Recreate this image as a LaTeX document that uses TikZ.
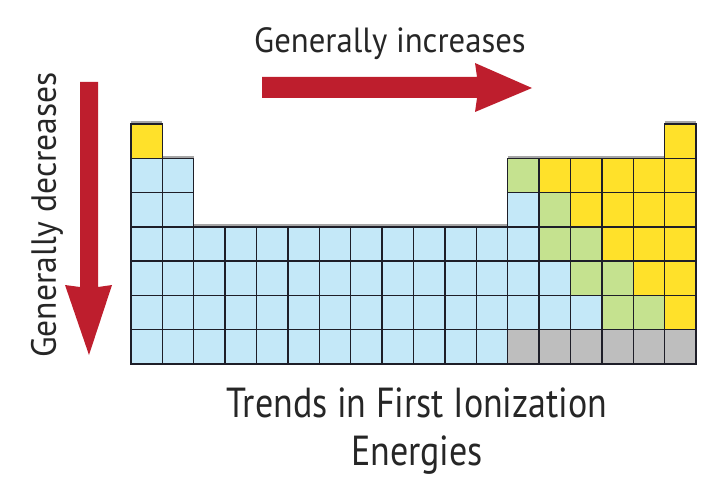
\documentclass[tikz,border=0pt]{standalone}
\usepackage{fontspec}
\setmainfont{PT Sans}
\definecolor{cblue}{HTML}{C4E8F8}
\definecolor{cyellow}{HTML}{FFE12A}
\definecolor{cgreen}{HTML}{C5E28F}
\definecolor{cgray}{HTML}{BEBEBE}
\definecolor{cred}{HTML}{BE1E2D}
\definecolor{cline}{HTML}{1E1E28}
\tikzset{
  lbl/.style={inner sep=0pt, text=black!85},
  bigarrow/.style={fill=cred, draw=none},
}
\newcommand{\narrowtext}[2]{\scalebox{#1}[1]{#2}}
\newcommand{\cell}[3]{% col, row, colour
  \fill[#3] ({131+(#1-1)*31.39},{124+(#2-1)*34.29}) rectangle ++(31.39,34.29);
  \draw[cline, line width=1.4pt] ({131+(#1-1)*31.39},{124+(#2-1)*34.29}) rectangle ++(31.39,34.29);
}
\begin{document}
\begin{tikzpicture}[x=1pt,y=-1pt]
\useasboundingbox (0,0) rectangle (721,500);
% shadows on top edges
\draw[gray!70, line width=2pt] (131,122.5) -- ++(31.39,0);
\draw[gray!70, line width=2pt] (162.4,157.5) -- ++(31.39,0);
\draw[gray!70, line width=2pt] (193.8,225.2) -- ++(313.9,0);
\draw[gray!70, line width=2pt] (507.7,157.5) -- ++(156.95,0);
\draw[gray!70, line width=2pt] (664.6,122.5) -- ++(31.39,0);
% row 1
\cell{1}{1}{cyellow}
\cell{18}{1}{cyellow}
% columns 1-2 rows 2-7
\foreach \c in {1,2} \foreach \r in {2,...,7} {\cell{\c}{\r}{cblue}}
% columns 3-12 rows 4-7
\foreach \c in {3,...,12} \foreach \r in {4,...,7} {\cell{\c}{\r}{cblue}}
% p block
\foreach \c/\r/\k in {13/2/cgreen,14/2/cyellow,15/2/cyellow,16/2/cyellow,17/2/cyellow,18/2/cyellow,
  13/3/cblue,14/3/cgreen,15/3/cyellow,16/3/cyellow,17/3/cyellow,18/3/cyellow,
  13/4/cblue,14/4/cgreen,15/4/cgreen,16/4/cyellow,17/4/cyellow,18/4/cyellow,
  13/5/cblue,14/5/cblue,15/5/cgreen,16/5/cgreen,17/5/cyellow,18/5/cyellow,
  13/6/cblue,14/6/cblue,15/6/cblue,16/6/cgreen,17/6/cgreen,18/6/cyellow,
  13/7/cgray,14/7/cgray,15/7/cgray,16/7/cgray,17/7/cgray,18/7/cgray}
  {\cell{\c}{\r}{\k}}
% arrows
\fill[bigarrow] (262,77) -- (477,77) -- (475,63) -- (532,88) -- (475,112) -- (477,98) -- (262,98) -- cycle;
\fill[bigarrow] (80,82) -- (98,82) -- (98,287) -- (112,285) -- (89,355) -- (65,285) -- (80,287) -- cycle;
% labels
\node[lbl, font=\fontsize{35}{40}\selectfont, anchor=base] (inc) at (390,53) {\narrowtext{0.936}{Generally increases}};
\node[lbl, font=\fontsize{35}{40}\selectfont, anchor=base, rotate=90] (dec) at (56,215) {\narrowtext{0.96}{Generally decreases}};
\node[lbl, font=\fontsize{42}{48}\selectfont, anchor=base] (t1) at (417,417) {\narrowtext{0.857}{Trends in First Ionization}};
\node[lbl, font=\fontsize{42}{48}\selectfont, anchor=base] (t2) at (417,465) {\narrowtext{0.857}{Energies}};
\end{tikzpicture}
\end{document}
